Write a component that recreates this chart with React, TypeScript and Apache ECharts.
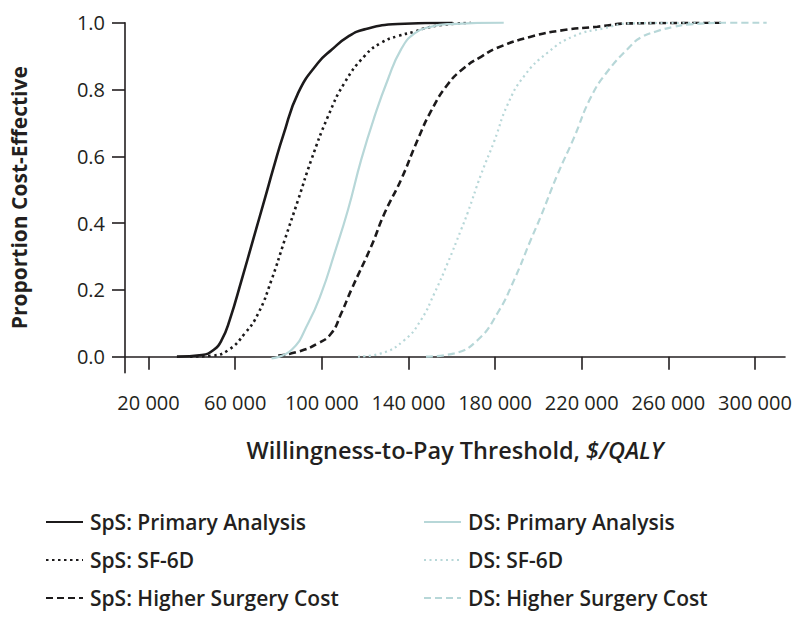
import React, { useEffect, useRef } from "react";
import * as echarts from "echarts";

// Willingness-to-pay thresholds ($/QALY) and proportions cost-effective
const spsPrimaryX = [33100, 44600, 50000, 53800, 57500, 63000, 68500, 74000, 77700, 82300, 89100, 98300, 104400, 112100, 119700, 135100, 160400];
const spsPrimaryY = [0.0, 0.005, 0.02, 0.05, 0.11, 0.23, 0.355, 0.48, 0.565, 0.665, 0.79, 0.88, 0.918, 0.958, 0.98, 0.996, 1.0];

const spsSf6dX = [39200, 49200, 56900, 64500, 70700, 76800, 82900, 89100, 95200, 102900, 110500, 119700, 127400, 135100, 142800, 147400, 155100, 168900];
const spsSf6dY = [0.0, 0.003, 0.02, 0.07, 0.13, 0.23, 0.35, 0.47, 0.59, 0.72, 0.82, 0.9, 0.94, 0.96, 0.973, 0.983, 0.993, 1.0];

const spsHigherX = [79900, 89100, 98300, 104400, 109000, 113600, 122800, 129000, 136600, 144300, 150400, 158100, 165800, 173500, 181100, 196500, 211800, 227200, 242500, 286200];
const spsHigherY = [0.003, 0.015, 0.04, 0.07, 0.13, 0.2, 0.33, 0.43, 0.53, 0.65, 0.735, 0.815, 0.865, 0.898, 0.925, 0.958, 0.978, 0.988, 0.998, 1.0];

const dsPrimaryX = [76800, 86000, 93700, 99800, 105900, 112100, 118200, 124400, 130500, 136600, 142800, 150400, 159700, 184000];
const dsPrimaryY = [-0.005, 0.02, 0.1, 0.19, 0.31, 0.44, 0.59, 0.72, 0.83, 0.92, 0.968, 0.988, 0.996, 1.0];

const dsSf6dX = [116700, 127400, 138200, 145800, 152000, 158100, 164300, 167300, 173500, 179600, 185800, 193400, 204200, 216400, 230200, 242500, 274700];
const dsSf6dY = [0.0, 0.01, 0.05, 0.11, 0.19, 0.28, 0.38, 0.43, 0.545, 0.645, 0.755, 0.84, 0.91, 0.96, 0.983, 0.998, 1.0];

const dsHigherX = [148100, 161200, 172000, 181100, 188800, 196500, 201100, 208800, 216400, 224100, 231800, 242500, 247100, 254000, 262000, 270000, 288500, 305400];
const dsHigherY = [0.0, 0.01, 0.05, 0.13, 0.23, 0.35, 0.42, 0.545, 0.655, 0.775, 0.853, 0.93, 0.955, 0.973, 0.987, 0.995, 1.0, 1.0];

const xTicks = [20000, 60000, 100000, 140000, 180000, 220000, 260000, 300000];
const yTicks = [0, 0.2, 0.4, 0.6, 0.8, 1.0];

const leftNames = ["SpS: Primary Analysis", "SpS: SF-6D", "SpS: Higher Surgery Cost"];
const rightNames = ["DS: Primary Analysis", "DS: SF-6D", "DS: Higher Surgery Cost"];

const DARK = "#1c1a1b";
const LIGHT = "#b7d7d8";
const TEXT = "#231f20";
const FONT = "'Open Sans', 'Noto Sans', sans-serif";

const zip = (xs: number[], ys: number[]) => xs.map((x, i) => [x, ys[i]]);

export default function App() {
  const ref = useRef<HTMLDivElement>(null);
  useEffect(() => {
    document.body.style.margin = "0";
    if (!ref.current) return;
    const chart = echarts.init(ref.current, undefined, { renderer: "svg" });
    const mk = (name: string, xs: number[], ys: number[], color: string, width: number, type: any) => ({
      name,
      type: "line",
      data: zip(xs, ys),
      symbol: "none",
      showSymbol: false,
      smooth: 0.5,
      silent: true,
      lineStyle: { color, width, type, cap: "butt" },
      itemStyle: { color },
    });
    const legendBase = {
      orient: "vertical",
      top: 511,
      padding: 0,
      itemWidth: 37,
      itemHeight: 14,
      itemGap: 16,
      selectedMode: false,
      itemStyle: { opacity: 0, borderWidth: 0 },
      textStyle: { color: TEXT, fontFamily: FONT, fontSize: 21, fontWeight: 600, lineHeight: 22, padding: [0, 0, 0, 2] },
    };
    chart.setOption({
      animation: false,
      backgroundColor: "#ffffff",
      grid: { left: 123, right: 15, top: 22.7, bottom: 245.3, containLabel: false },
      xAxis: {
        type: "value",
        min: 9140,
        max: 313860,
        splitLine: { show: false },
        axisLine: { show: true, lineStyle: { color: TEXT, width: 1.6 } },
        axisTick: { show: true, length: 13, lineStyle: { color: TEXT, width: 1.6 }, customValues: xTicks },
        axisLabel: {
          customValues: xTicks,
          margin: 20,
          color: TEXT,
          fontFamily: FONT,
          fontSize: 20,
          formatter: (v: number) => String(Math.round(v)).replace(/\B(?=(\d{3})+(?!\d))/g, " "),
        },
        name: "{a|Willingness-to-Pay Threshold, }{b|$/QALY}",
        nameLocation: "middle",
        nameGap: 65,
        nameTextStyle: {
          rich: {
            a: { color: TEXT, fontFamily: FONT, fontSize: 23.5, fontWeight: 600 },
            b: { color: TEXT, fontFamily: FONT, fontSize: 23.5, fontWeight: 600, fontStyle: "italic" },
          },
        },
      },
      yAxis: {
        type: "value",
        min: -0.048,
        max: 1.0,
        splitLine: { show: false },
        axisLine: { show: true, lineStyle: { color: TEXT, width: 1.6 } },
        axisTick: { show: true, length: 13, lineStyle: { color: TEXT, width: 1.6 }, customValues: yTicks },
        axisLabel: {
          customValues: yTicks,
          margin: 20,
          color: TEXT,
          fontFamily: FONT,
          fontSize: 20,
          formatter: (v: number) => v.toFixed(1),
        },
        name: "Proportion Cost-Effective",
        nameLocation: "middle",
        nameGap: 96,
        nameTextStyle: { color: TEXT, fontFamily: FONT, fontSize: 21, fontWeight: 700 },
      },
      legend: [
        { ...legendBase, left: 45, data: leftNames },
        { ...legendBase, left: 423, data: rightNames },
      ],
      series: [
        mk(leftNames[0], spsPrimaryX, spsPrimaryY, DARK, 2.6, "solid"),
        mk(leftNames[1], spsSf6dX, spsSf6dY, DARK, 2.6, [2.5, 3.5]),
        mk(leftNames[2], spsHigherX, spsHigherY, DARK, 2.6, [7, 4]),
        mk(rightNames[0], dsPrimaryX, dsPrimaryY, LIGHT, 2.2, "solid"),
        mk(rightNames[1], dsSf6dX, dsSf6dY, LIGHT, 2.2, [2, 3.5]),
        mk(rightNames[2], dsHigherX, dsHigherY, LIGHT, 2.2, [7, 4]),
      ],
    });
    return () => chart.dispose();
  }, []);
  return <div ref={ref} style={{ width: 800, height: 618 }} />;
}
